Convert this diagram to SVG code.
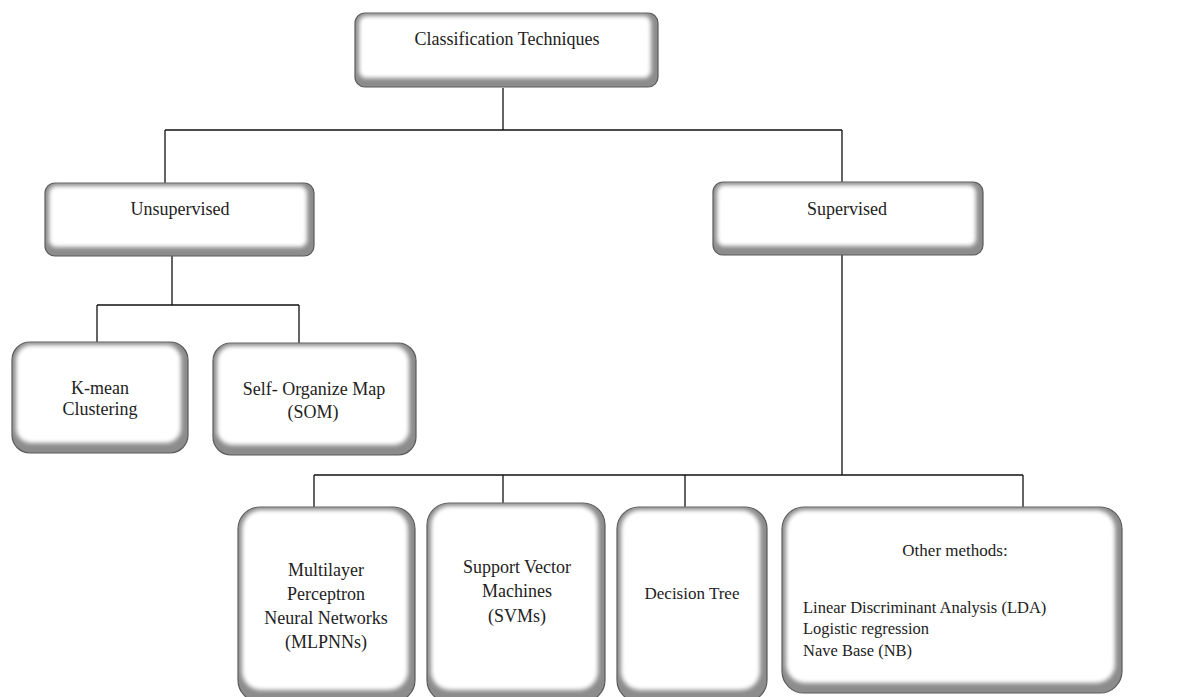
<svg xmlns="http://www.w3.org/2000/svg" width="1194" height="697" viewBox="0 0 1194 697">
<style>
  .outer { fill: #8c8c8c; stroke: #5a5a5a; stroke-width: 1.2; }
  .inner { fill: #ffffff; filter: url(#soft); }
  .t { font-family: "Liberation Serif", "Times New Roman", serif; font-size: 18px; fill: #222; text-anchor: middle; }
  .m { font-size: 17px; }
  .l { text-anchor: start; font-size: 16.5px; }
  .conn { stroke: #111; stroke-width: 1.3; fill: none; }
</style>
<defs>
  <filter id="soft" x="-10%" y="-10%" width="120%" height="120%">
    <feGaussianBlur stdDeviation="2.2"/>
  </filter>
</defs>
<rect width="1194" height="697" fill="#ffffff"/>
<g id="connectors">
  <path class="conn" d="M503 88 V130 M165 130 H842 M165 130 V183 M842 130 V183"/>
  <path class="conn" d="M172 256 V305 M97 305 H299 M97 305 V342 M299 305 V343"/>
  <path class="conn" d="M842 255 V475 M314 475 H1023 M314 475 V507 M503 475 V503 M685 475 V507 M1023 475 V507"/>
</g>
<g id="n-root">
  <rect class="outer" x="355" y="13" width="303" height="74" rx="10"/>
  <rect class="inner" x="359" y="16" width="292" height="62" rx="7"/>
  <text class="t" x="507" y="45">Classification Techniques</text>
</g>
<g id="n-unsupervised">
  <rect class="outer" x="45" y="183" width="269" height="73" rx="10"/>
  <rect class="inner" x="49" y="186" width="258" height="61" rx="7"/>
  <text class="t" x="180" y="215">Unsupervised</text>
</g>
<g id="n-supervised">
  <rect class="outer" x="713" y="182" width="270" height="73" rx="10"/>
  <rect class="inner" x="717" y="185" width="259" height="61" rx="7"/>
  <text class="t" x="847" y="215">Supervised</text>
</g>
<g id="n-kmean">
  <rect class="outer" x="12" y="342" width="176" height="111" rx="18"/>
  <rect class="inner" x="16" y="345" width="165" height="98" rx="15"/>
  <text class="t" x="100" y="394">K-mean</text>
  <text class="t" x="100" y="415">Clustering</text>
</g>
<g id="n-som">
  <rect class="outer" x="213" y="343" width="203" height="112" rx="18"/>
  <rect class="inner" x="217" y="346" width="192" height="99" rx="15"/>
  <text class="t" x="314" y="395">Self- Organize Map</text>
  <text class="t" x="313" y="418">(SOM)</text>
</g>
<g id="n-mlp">
  <rect class="outer" x="238" y="507" width="177" height="195" rx="22"/>
  <rect class="inner" x="242" y="510" width="166" height="180" rx="19"/>
  <text class="t" x="326" y="576">Multilayer</text>
  <text class="t" x="326" y="600">Perceptron</text>
  <text class="t" x="326" y="624">Neural Networks</text>
  <text class="t" x="326" y="648">(MLPNNs)</text>
</g>
<g id="n-svm">
  <rect class="outer" x="427" y="503" width="178" height="199" rx="22"/>
  <rect class="inner" x="431" y="506" width="167" height="184" rx="19"/>
  <text class="t" x="517" y="573">Support Vector</text>
  <text class="t" x="517" y="597">Machines</text>
  <text class="t" x="517" y="622">(SVMs)</text>
</g>
<g id="n-dt">
  <rect class="outer" x="617" y="507" width="150" height="195" rx="22"/>
  <rect class="inner" x="621" y="510" width="139" height="180" rx="19"/>
  <text class="t m" x="692" y="599">Decision Tree</text>
</g>
<g id="n-other">
  <rect class="outer" x="782" y="507" width="340" height="186" rx="22"/>
  <rect class="inner" x="786" y="510" width="329" height="173" rx="19"/>
  <text class="t m" x="955" y="556">Other methods:</text>
  <text class="t l" x="803" y="613">Linear Discriminant Analysis (LDA)</text>
  <text class="t l" x="803" y="634">Logistic regression</text>
  <text class="t l" x="803" y="656">Nave Base (NB)</text>
</g>
</svg>
